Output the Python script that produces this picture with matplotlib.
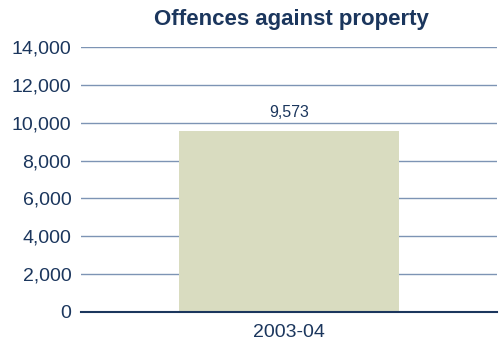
import matplotlib
matplotlib.use("Agg")
import matplotlib.pyplot as plt

categories = ["2003-04"]
values = [9573]
yticks = [0, 2000, 4000, 6000, 8000, 10000, 12000, 14000]

navy = "#1b365d"
grid_col = "#7d94b4"
bar_col = "#d9dcc0"

plt.rcParams["font.family"] = ["Liberation Sans", "DejaVu Sans"]

fig = plt.figure(figsize=(4.99, 3.47), dpi=100)
ax = fig.add_axes([0.1623, 0.1009, 0.8337, 0.7637])

x = list(range(len(categories)))
ax.bar(x, values, width=0.53, color=bar_col, zorder=2)
for xi, v in zip(x, values):
    ax.annotate(f"{v:,}", (xi, v), xytext=(0, 8), textcoords="offset points",
                ha="center", va="bottom", fontsize=11.5, color=navy)

ax.set_xlim(-0.5, len(categories) - 0.5)
ax.set_ylim(0, 14000)
ax.set_yticks(yticks)
ax.set_yticklabels([f"{t:,}" for t in yticks])
ax.set_xticks(x)
ax.set_xticklabels(categories)
ax.tick_params(axis="both", length=0, labelsize=14, colors=navy)
ax.tick_params(axis="y", pad=7)
ax.tick_params(axis="x", pad=9)

ax.yaxis.grid(True, color=grid_col, linewidth=1.0, zorder=1)
ax.set_axisbelow(True)
for s in ["top", "right", "left"]:
    ax.spines[s].set_visible(False)
ax.spines["bottom"].set_color(navy)
ax.spines["bottom"].set_linewidth(1.5)
ax.spines["bottom"].set_zorder(3)

fig.text(0.585, 0.944, "Offences against property", ha="center", va="center",
         fontsize=16, fontweight="bold", color=navy)

fig.savefig("out.png", dpi=100)
